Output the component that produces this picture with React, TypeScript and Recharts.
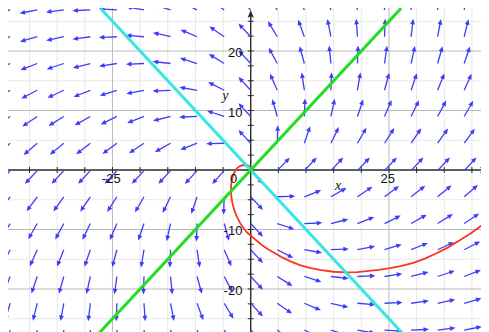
import React from 'react';
import { ComposedChart, XAxis, YAxis, Scatter } from 'recharts';

const W = 481;
const H = 324;
const X_MIN = -43.89;
const X_MAX = 43.09;
const Y_MIN = -27.23;
const Y_MAX = 27.23;
const SX = W / (X_MAX - X_MIN);
const SY = H / (Y_MAX - Y_MIN);

// direction-field sample grid (arrow tails)
const fieldXs = [-43.5, -38.6, -33.8, -29.0, -24.2, -19.3, -14.5, -9.7, -4.8, 0, 4.8, 9.7, 14.5, 19.3, 24.2, 29.0, 33.8, 38.6];
const fieldYs = [-26.9, -22.4, -17.9, -13.4, -9.0, -4.5, -0.1, 4.5, 9.0, 13.4, 17.9, 22.4, 26.9];
// plotted system: dx/dt = x - y, dy/dt = x + y
const fieldU = (x: number, y: number) => x - y;
const fieldV = (x: number, y: number) => x + y;
const fieldPoints = fieldXs.flatMap((x) => fieldYs.map((y) => ({ x, y })));

// axis ticks and labels
const xTicks = [-40, -35, -30, -25, -20, -15, -10, -5, 5, 10, 15, 20, 25, 30, 35, 40];
const yTicks = [-25, -22.5, -20, -17.5, -15, -12.5, -10, -7.5, -5, -2.5, 2.5, 5, 7.5, 10, 12.5, 15, 17.5, 20, 22.5, 25];
const xTickLabels = [
  { x: -25, y: 0, label: '-25' },
  { x: 25, y: 0, label: '25' },
];
const originLabel = [{ x: 0, y: 0, label: '0' }];
const yTickLabels = [
  { x: 0, y: 20, label: '20' },
  { x: 0, y: 10, label: '10' },
  { x: 0, y: -10, label: '-10' },
  { x: 0, y: -20, label: '-20' },
];

// grid
const xGridLight = [-40, -35, -30, -20, -15, -10, -5, 5, 10, 15, 20, 30, 35, 40];
const xGridDark = [-25, 25];
const yGridLight = [-25, -15, -5, 5, 15, 25];
const yGridDark = [-20, -10, 10, 20];

// curves
const cyanLine = [
  { x: -27.1, y: 27.1 },
  { x: 27.6, y: -27.6 },
];
const greenLine = [
  { x: -27.6, y: -27.6 },
  { x: 27.2, y: 27.2 },
];
const redCurve = [
  { x: 0.0, y: 0.5 }, { x: -0.45, y: 0.72 }, { x: -1.0, y: 0.84 }, { x: -1.5, y: 0.8 },
  { x: -1.95, y: 0.66 }, { x: -2.4, y: 0.36 }, { x: -2.75, y: -0.05 }, { x: -3.08, y: -0.65 },
  { x: -3.34, y: -1.4 }, { x: -3.52, y: -2.35 }, { x: -3.58, y: -3.35 }, { x: -3.5, y: -4.5 },
  { x: -3.3, y: -5.6 }, { x: -2.97, y: -6.75 }, { x: -2.5, y: -7.85 }, { x: -1.95, y: -8.85 },
  { x: -1.3, y: -9.8 }, { x: -0.6, y: -10.55 }, { x: 0.2, y: -11.2 }, { x: 1.1, y: -11.9 },
  { x: 2.0, y: -12.6 }, { x: 3.2, y: -13.35 }, { x: 4.4, y: -14.0 }, { x: 5.5, y: -14.6 },
  { x: 7.2, y: -15.35 }, { x: 8.9, y: -16.0 }, { x: 10.7, y: -16.45 }, { x: 12.5, y: -16.8 },
  { x: 14.9, y: -17.1 }, { x: 17.4, y: -17.2 }, { x: 19.2, y: -17.15 }, { x: 21.0, y: -17.0 },
  { x: 23.1, y: -16.8 }, { x: 25.2, y: -16.5 }, { x: 27.3, y: -16.1 }, { x: 29.4, y: -15.6 },
  { x: 31.5, y: -14.9 }, { x: 33.6, y: -14.0 }, { x: 35.7, y: -13.0 }, { x: 37.8, y: -11.8 },
  { x: 39.7, y: -10.7 }, { x: 41.5, y: -9.5 }, { x: 43.5, y: -8.1 },
];

// axes
const xAxisLine = [
  { x: X_MIN, y: 0 },
  { x: 42.0, y: 0 },
];
const yAxisLine = [
  { x: 0, y: Y_MIN },
  { x: 0, y: 26.0 },
];
const xAxisTip = [{ x: 42.9, y: 0 }];
const yAxisTip = [{ x: 0, y: 26.9 }];
const axisTitles = [
  { x: 15.8, y: -3.36, label: 'x' },
  { x: -4.6, y: 11.76, label: 'y' },
];

const BLUE = '#3d3dfa';
const AXIS = '#2a2a2a';
const GRID_LIGHT = '#e8e8e8';
const GRID_DARK = '#b9b9b9';
const SANS = '"Liberation Sans", Arial, Helvetica, sans-serif';
const SERIF = '"Liberation Serif", "Times New Roman", serif';

const Empty = () => <g />;

const Arrow = (p: any) => {
  const { cx, cy, payload } = p;
  let dx = fieldU(payload.x, payload.y) * SX;
  let dy = -fieldV(payload.x, payload.y) * SY;
  const m = Math.hypot(dx, dy) || 1;
  dx /= m;
  dy /= m;
  const L = 18;
  const hx = cx + dx * L;
  const hy = cy + dy * L;
  const ah = 5.5;
  const aw = 2.4;
  const bx = hx - dx * ah;
  const by = hy - dy * ah;
  const nx = -dy;
  const ny = dx;
  return (
    <g>
      <line x1={cx} y1={cy} x2={bx + dx * 1} y2={by + dy * 1} stroke={BLUE} strokeWidth={1.3} />
      <polygon points={`${hx},${hy} ${bx + nx * aw},${by + ny * aw} ${bx - nx * aw},${by - ny * aw}`} fill={BLUE} />
    </g>
  );
};

const vGrid = (color: string) => (p: any) => <line x1={p.cx} x2={p.cx} y1={0} y2={H} stroke={color} strokeWidth={1} />;
const hGrid = (color: string) => (p: any) => <line x1={0} x2={W} y1={p.cy} y2={p.cy} stroke={color} strokeWidth={1} />;

const XTick = (p: any) => <line x1={p.cx} x2={p.cx} y1={p.cy - 3} y2={p.cy + 3} stroke={AXIS} strokeWidth={1} />;
const YTick = (p: any) => <line x1={p.cx - 3} x2={p.cx + 3} y1={p.cy} y2={p.cy} stroke={AXIS} strokeWidth={1} />;

const XLabel = (p: any) => (
  <text x={p.cx - 1.2} y={p.cy + 13.4} textAnchor="middle" fontFamily={SANS} fontSize={13} fill="#111">
    {p.payload.label}
  </text>
);
const OriginLabel = (p: any) => (
  <text x={p.cx - 17} y={p.cy + 13.4} textAnchor="middle" fontFamily={SANS} fontSize={13} fill="#111">
    {p.payload.label}
  </text>
);
const YLabel = (p: any) => (
  <text x={p.cx - 8.3} y={p.cy + 6} textAnchor="end" fontFamily={SANS} fontSize={13} fill="#111">
    {p.payload.label}
  </text>
);
const TitleLabel = (p: any) => (
  <text x={p.cx} y={p.cy} textAnchor="middle" fontFamily={SERIF} fontStyle="italic" fontSize={14} fill="#111">
    {p.payload.label}
  </text>
);

const XTip = (p: any) => (
  <polygon points={`${p.cx},${p.cy} ${p.cx - 8},${p.cy - 3.2} ${p.cx - 6},${p.cy} ${p.cx - 8},${p.cy + 3.2}`} fill={AXIS} />
);
const YTip = (p: any) => (
  <polygon points={`${p.cx},${p.cy} ${p.cx - 3.2},${p.cy + 8} ${p.cx},${p.cy + 6} ${p.cx + 3.2},${p.cy + 8}`} fill={AXIS} />
);

export default function App() {
  return (
    <div style={{ width: W, height: H }}>
      <style>{`html,body{overflow:hidden;}`}</style>
      <ComposedChart width={W} height={H} margin={{ top: 0, right: 0, bottom: 0, left: 0 }}>
        <XAxis type="number" dataKey="x" domain={[X_MIN, X_MAX]} allowDataOverflow hide />
        <YAxis type="number" dataKey="y" domain={[Y_MIN, Y_MAX]} allowDataOverflow hide />
        <Scatter data={xGridLight.map((x) => ({ x, y: 0 }))} shape={vGrid(GRID_LIGHT)} isAnimationActive={false} />
        <Scatter data={yGridLight.map((y) => ({ x: 0, y }))} shape={hGrid(GRID_LIGHT)} isAnimationActive={false} />
        <Scatter data={xGridDark.map((x) => ({ x, y: 0 }))} shape={vGrid(GRID_DARK)} isAnimationActive={false} />
        <Scatter data={yGridDark.map((y) => ({ x: 0, y }))} shape={hGrid(GRID_DARK)} isAnimationActive={false} />
        <Scatter data={xAxisLine} line={{ stroke: AXIS, strokeWidth: 1.4 }} lineType="joint" shape={Empty} isAnimationActive={false} />
        <Scatter data={yAxisLine} line={{ stroke: AXIS, strokeWidth: 1.4 }} lineType="joint" shape={Empty} isAnimationActive={false} />
        <Scatter data={xAxisTip} shape={XTip} isAnimationActive={false} />
        <Scatter data={yAxisTip} shape={YTip} isAnimationActive={false} />
        <Scatter data={xTicks.map((x) => ({ x, y: 0 }))} shape={XTick} isAnimationActive={false} />
        <Scatter data={yTicks.map((y) => ({ x: 0, y }))} shape={YTick} isAnimationActive={false} />
        <Scatter data={fieldPoints} shape={Arrow} isAnimationActive={false} />
        <Scatter data={redCurve} line={{ stroke: '#ff3322', strokeWidth: 1.8 }} lineType="joint" shape={Empty} isAnimationActive={false} />
        <Scatter data={cyanLine} line={{ stroke: '#35e6e6', strokeWidth: 3 }} lineType="joint" shape={Empty} isAnimationActive={false} />
        <Scatter data={greenLine} line={{ stroke: '#22dd22', strokeWidth: 3 }} lineType="joint" shape={Empty} isAnimationActive={false} />
        <Scatter data={xTickLabels} shape={XLabel} isAnimationActive={false} />
        <Scatter data={originLabel} shape={OriginLabel} isAnimationActive={false} />
        <Scatter data={yTickLabels} shape={YLabel} isAnimationActive={false} />
        <Scatter data={axisTitles} shape={TitleLabel} isAnimationActive={false} />
      </ComposedChart>
    </div>
  );
}
